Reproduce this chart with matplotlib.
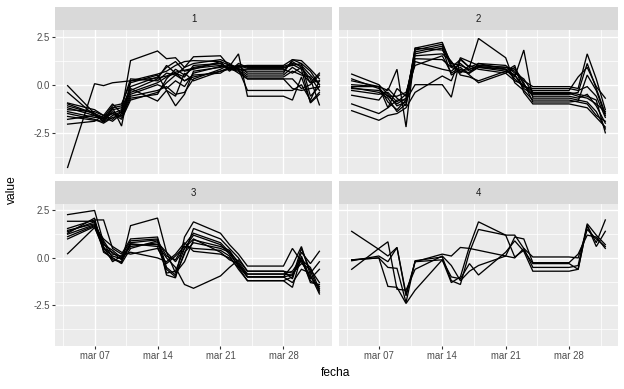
import matplotlib
matplotlib.use('Agg')
import matplotlib.pyplot as plt
import matplotlib.dates as mdates
import numpy as np
import pandas as pd

plt.rcParams['font.family'] = ['Liberation Sans', 'DejaVu Sans']

# dates with a reading (same for every series)
fechas = pd.to_datetime([
    '2020-03-04', '2020-03-07', '2020-03-08', '2020-03-09', '2020-03-10',
    '2020-03-11', '2020-03-14', '2020-03-15', '2020-03-16', '2020-03-17',
    '2020-03-18', '2020-03-21', '2020-03-22', '2020-03-23', '2020-03-24',
    '2020-03-28', '2020-03-29', '2020-03-30', '2020-03-31', '2020-04-01'])

grupo_1 = [
    [-4.3, 0.05, -0.05, 0.1, 0.15, 0.2, 0.35, 0.45, 0.65, 0.75, 0.85, 1.0, 0.9, 0.95, 1.0, 1.0, 1.3, 1.25, 0.8, 0.3],
    [-0.05, -1.5, -1.95, -1.6, -1.4, 1.25, 1.75, 1.35, 1.4, 0.9, 1.45, 1.5, 0.95, 1.6, -0.6, -0.6, -0.8, 0.4, -0.9, -0.4],
    [-0.4, -1.6, -1.8, -1.2, -2.15, 0.2, 0.55, 0.7, 1.0, 1.2, 1.25, 1.2, 1.0, 0.9, 0.95, 0.95, 1.1, 1.0, 0.5, 0.0],
    [-0.95, -1.3, -1.6, -1.0, -1.5, -0.3, 0.3, 1.0, 0.6, 0.4, 1.0, 1.1, 0.8, 1.0, 0.85, 0.85, 1.05, 0.8, -0.95, -0.5],
    [-1.1, -1.5, -1.7, -1.1, -1.0, 0.1, 0.5, -0.3, -1.1, -0.5, 0.7, 0.9, 1.0, 0.8, 0.8, 0.8, 0.6, 0.9, 0.3, -1.05],
    [-1.2, -1.6, -1.8, -1.3, -1.2, -0.2, -0.85, -0.3, -0.6, 0.6, 0.2, 0.7, 0.9, 0.8, 0.7, 0.7, 1.2, 0.9, 0.1, 0.6],
    [-1.4, -1.7, -1.75, -1.5, -1.3, -0.4, 0.1, 0.4, 0.6, 0.2, 0.5, 0.6, 0.9, 1.0, 0.6, 0.6, 1.3, 1.1, -0.6, -0.1],
    [-1.5, -1.8, -2.0, -1.7, -1.6, -0.6, -0.3, -0.1, -0.5, -0.4, 0.3, 0.8, 1.05, 0.85, 0.5, 0.5, 0.9, 0.6, 0.1, 0.2],
    [-1.65, -1.85, -1.9, -1.4, -1.7, -0.7, -0.5, 0.3, 0.8, 0.5, 0.9, 1.1, 0.85, 0.75, 0.4, 0.4, 0.7, 0.5, 0.4, -0.3],
    [-1.8, -1.6, -1.7, -1.9, -1.5, -0.5, 0.0, -0.2, 0.2, -0.1, 0.6, 0.95, 0.9, 0.6, 0.3, 0.3, 0.3, -0.2, 0.0, 0.5],
    [-2.05, -1.9, -1.6, -1.5, -1.8, -0.8, -0.4, 0.1, 0.5, 0.2, 0.4, 0.7, 0.8, 0.7, 0.3, 0.3, -0.2, -0.3, -0.2, -0.1],
    [-1.0, -1.5, -1.9, -1.2, -1.1, 0.3, 0.2, 0.6, 0.5, 0.9, 1.1, 1.3, 1.1, 0.8, -0.3, -0.3, -0.3, 0.0, -0.8, 0.2],
    [-1.3, -1.4, -1.6, -1.8, -1.4, -0.1, 0.4, 0.9, 1.2, 0.7, 0.8, 1.2, 0.7, 1.1, 0.9, 0.9, 1.0, 1.1, 0.7, 0.0],
]

grupo_2 = [
    [0.55, 0.0, -0.5, -1.1, -0.9, 1.9, 2.2, 1.0, 0.7, 0.6, 1.1, 0.8, 0.3, -0.1, -0.3, -0.3, 0.4, 0.9, -0.1, -0.7],
    [0.0, -0.1, -0.3, 0.8, -2.2, 1.8, 2.1, 1.1, 1.0, 0.8, 1.0, 0.9, 0.8, 0.2, -0.1, -0.1, -0.2, 1.6, 0.3, -1.3],
    [-0.1, -0.1, -1.2, -0.2, -0.6, 1.7, 2.0, 0.9, 1.3, 0.9, 1.1, 1.0, 0.6, 0.3, -0.4, -0.4, -0.5, -0.6, -0.8, -2.5],
    [-0.2, -0.3, -0.6, -1.0, -0.7, 1.6, 1.9, 0.5, 0.8, 0.6, 0.9, 0.7, 0.5, -0.2, -0.5, -0.5, -0.4, 1.1, -0.2, -1.5],
    [-0.3, -0.5, -0.4, -0.9, -0.5, 1.5, 1.6, 1.2, 0.6, 1.0, 0.8, 0.6, 0.2, 0.0, -0.6, -0.6, -0.7, -0.5, -1.1, -2.0],
    [-0.55, -0.8, -0.2, -0.7, -1.1, 1.35, 1.3, 0.9, 0.7, 0.8, 0.95, 0.8, 0.4, 1.8, -0.7, -0.7, -0.8, -0.9, -1.4, -2.3],
    [-1.0, -1.5, -1.2, -0.8, -0.8, 0.0, 0.0, -0.65, 1.35, 0.9, 2.4, 1.4, 0.1, -0.3, -0.8, -0.8, -0.9, -1.0, -1.6, -1.9],
    [-1.35, -1.85, -1.6, -1.5, -1.2, -0.4, 0.45, 0.2, 1.4, 1.2, 1.0, 0.9, 0.7, 0.1, -0.9, -0.9, -0.85, 0.5, -0.3, -1.6],
    [0.2, -0.1, -0.9, -1.3, -0.8, 1.9, 1.8, 1.2, 0.5, 0.4, 0.2, 0.7, 1.0, -0.4, -1.0, -1.0, -1.1, -1.2, -1.7, -2.2],
    [-0.15, -0.4, -0.7, -1.4, -1.0, 1.2, 0.8, 0.7, 1.1, 0.7, 0.9, 0.8, 0.5, -0.1, -0.2, -0.2, -0.3, -0.1, -0.6, -1.7],
    [0.3, -0.2, -0.6, -0.6, -0.4, 1.0, 1.5, 0.6, 0.9, 0.5, 0.1, 0.6, 0.9, 0.0, -0.45, -0.45, -0.6, -0.7, -1.0, -1.4],
]

grupo_3 = [
    [2.28, 2.5, 0.8, 0.0, -0.25, 1.7, 2.1, 0.3, -0.2, 0.5, 1.0, 0.3, -0.1, -0.3, -1.0, -1.0, -0.4, 0.6, -0.9, -1.9],
    [1.93, 1.93, 0.6, -0.2, 0.1, 0.9, 1.0, -0.9, -1.05, 1.1, 1.9, 1.3, 0.7, 0.2, -0.43, -0.43, 0.5, -0.2, -1.0, -1.6],
    [1.55, 2.0, 2.0, 0.5, 0.2, 1.0, 1.1, -0.5, -0.9, 0.2, 1.55, 1.0, 0.5, 0.0, -0.7, -0.7, -1.1, 0.3, -0.3, 0.35],
    [1.45, 1.8, 0.5, 0.3, -0.1, 0.8, 0.95, -0.8, -0.7, 0.5, 1.2, 0.7, 0.2, -0.4, -0.85, -0.85, -0.9, -0.1, -1.2, -1.5],
    [1.38, 1.9, 0.7, 0.4, 0.0, 0.6, 0.8, 0.3, -0.8, -0.2, 0.95, 0.6, 0.4, -0.3, -1.0, -1.0, -1.3, -0.6, -0.8, -0.2],
    [1.25, 1.75, 0.9, 0.2, 0.1, 0.3, 0.0, -0.2, 0.2, 0.8, 0.35, 0.2, 0.0, -0.5, -1.2, -1.2, -1.55, 0.1, -1.1, -0.6],
    [1.12, 1.7, 0.4, -0.1, -0.2, 0.7, 0.7, 0.0, -0.5, -1.4, -1.6, -0.95, -0.5, -0.1, -0.7, -0.7, -0.8, -0.3, -0.6, -1.3],
    [1.0, 1.65, 1.0, 0.6, 0.3, 0.2, 0.5, -0.3, 0.1, 0.6, 0.5, 0.4, 0.1, -0.6, -1.2, -1.2, -1.0, 0.5, -0.7, -1.8],
    [0.22, 1.6, 0.5, 0.1, -0.05, 0.75, 0.6, -0.6, -1.0, 0.3, 0.8, 0.5, 0.3, -0.2, -0.85, -0.85, -0.7, 0.0, -1.3, -1.4],
    [1.3, 2.1, 0.3, 0.0, -0.3, 0.5, 0.9, 0.1, -0.1, 0.7, 1.3, 0.8, 0.3, -0.45, -1.0, -1.0, -0.9, -0.1, -0.5, -1.7],
]

grupo_4 = [
    [1.4, 0.45, 0.1, 0.55, -2.0, -0.2, -0.1, -1.3, -1.0, 0.6, 1.9, 1.2, 1.2, 0.5, -0.5, -0.5, -0.4, 1.8, 1.2, 0.7],
    [-0.1, 0.0, -0.5, -0.55, -2.35, -0.15, 0.05, -1.2, -1.4, 0.3, 1.5, 1.2, 0.05, 0.4, -0.3, -0.3, -0.6, 1.7, 0.8, 2.0],
    [-0.6, 0.5, 0.85, -1.65, -1.7, -0.6, 0.1, -0.4, -1.2, -0.7, -0.4, 0.1, 0.0, 0.5, 0.05, 0.05, 0.0, 1.5, 1.0, 0.6],
    [-0.1, 0.0, -1.5, -1.55, -2.4, -1.7, -0.1, -1.0, -1.1, -0.3, -0.9, 0.3, 0.9, 0.35, -0.7, -0.7, -0.6, 1.7, 0.6, 1.4],
    [-0.15, 0.1, -0.2, 0.55, -1.9, -0.2, 0.2, 0.1, 0.55, 0.5, 0.4, 0.1, 1.1, 1.0, -0.25, -0.25, 0.2, 1.2, 1.1, 0.5],
]

grupos = ['1', '2', '3', '4']
series = [grupo_1, grupo_2, grupo_3, grupo_4]

W, H = 624, 389
fig = plt.figure(figsize=(W / 72, H / 72), dpi=72)

# panel boxes in pixels: x0, x1, y0 (top), y1 (bottom)
cajas = [(55, 332, 30, 174), (339, 618, 30, 174), (55, 332, 204, 346), (339, 618, 204, 346)]
alto_tira = 23

x = mdates.date2num(fechas)
todos = np.concatenate([np.ravel(s) for s in series])
pad_y = 0.05 * (todos.max() - todos.min())
ylim = (todos.min() - pad_y, todos.max() + pad_y)
pad_x = 0.05 * (x.max() - x.min())
xlim = (x.min() - pad_x, x.max() + pad_x)

mayores_x = mdates.date2num(pd.to_datetime(['2020-03-07', '2020-03-14', '2020-03-21', '2020-03-28']))
menores_x = np.concatenate([[mayores_x[0] - 3.5], mayores_x + 3.5])
mayores_y = [-2.5, 0.0, 2.5]
menores_y = [-3.75, -1.25, 1.25]

for i, (x0, x1, y0, y1) in enumerate(cajas):
    ax = fig.add_axes([x0 / W, 1 - y1 / H, (x1 - x0) / W, (y1 - y0) / H])
    ax.set_facecolor('#EBEBEB')
    for s in ax.spines.values():
        s.set_visible(False)
    ax.set_xlim(xlim)
    ax.set_ylim(ylim)
    ax.set_xticks(mayores_x)
    ax.set_xticks(menores_x, minor=True)
    ax.set_yticks(mayores_y)
    ax.set_yticks(menores_y, minor=True)
    ax.grid(which='major', color='white', linewidth=1.4)
    ax.grid(which='minor', color='white', linewidth=0.7)
    ax.set_axisbelow(True)
    ax.tick_params(which='minor', length=0)
    ax.tick_params(which='major', length=2.75, width=1.1, color='#333333',
                   labelsize=9.6, labelcolor='#4D4D4D', pad=2)
    ax.xaxis.set_major_formatter(mdates.DateFormatter('mar %d'))
    if i in (1, 3):
        ax.tick_params(axis='y', length=0, labelleft=False)
    else:
        ax.set_yticklabels(['-2.5', '0.0', '2.5'])
    if i in (0, 1):
        ax.tick_params(axis='x', length=0, labelbottom=False)

    for valores in series[i]:
        ax.plot(x, valores, color='black', linewidth=1.3, solid_joinstyle='miter')

    # strip with facet label
    tira = fig.add_axes([x0 / W, 1 - y0 / H, (x1 - x0) / W, alto_tira / H])
    tira.set_facecolor('#D9D9D9')
    tira.set_xticks([])
    tira.set_yticks([])
    for s in tira.spines.values():
        s.set_visible(False)
    tira.text(0.5, 0.5, grupos[i], ha='center', va='center', fontsize=9.6, color='#1A1A1A',
              transform=tira.transAxes)

fig.text(336 / W, 1 - 373 / H, 'fecha', ha='center', va='center', fontsize=12)
fig.text(12 / W, 1 - 190 / H, 'value', ha='center', va='center', rotation=90, fontsize=12)

fig.savefig('out.png', dpi=72)
